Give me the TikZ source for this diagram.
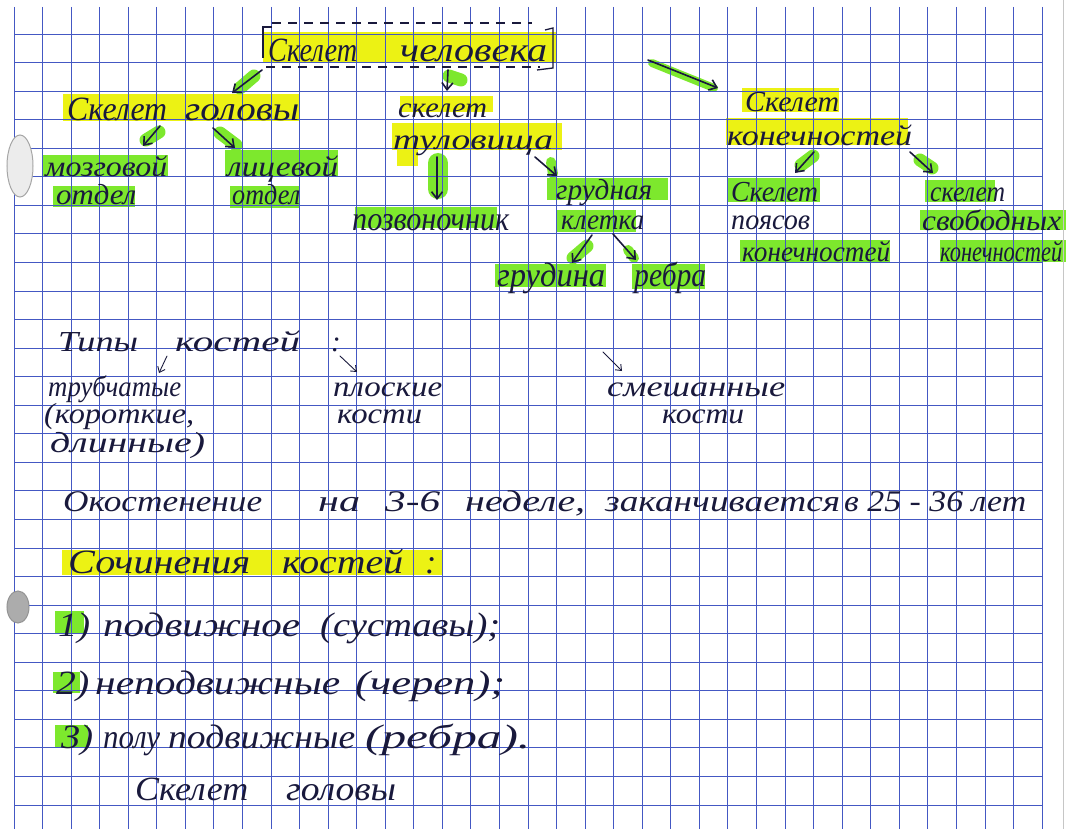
\documentclass[tikz,border=0pt]{standalone}
\usepackage{fontspec}
\setmainfont{Liberation Serif}
\usetikzlibrary{arrows.meta}
\definecolor{ink}{RGB}{25,25,60}
\definecolor{gridblue}{RGB}{68,88,195}
\definecolor{yhl}{RGB}{236,242,20}
\definecolor{ghl}{RGB}{125,232,45}
\newcommand\hw[2]{\resizebox{#1pt}{\height}{#2}}
\newcommand\hwl[3][0]{\hbox{\hspace*{#1pt}\hw{#2}{#3}}}
\newcommand\stk[1]{\vtop{\lineskiplimit=-99pt\lineskip=0pt\relax #1}}
\begin{document}
\begin{tikzpicture}[x=1pt,y=-1pt,
  lbl/.style={inner sep=0pt, anchor=base west, text=ink, font=\fontsize{34}{28}\selectfont\itshape},
  stl/.style={lbl, font=\fontsize{29}{28}\selectfont\itshape},
  sml/.style={lbl, font=\fontsize{29}{27}\selectfont\itshape},
  yh/.style={fill=yhl},
  gh/.style={fill=ghl},
  gridline/.style={draw=gridblue, line width=1.4pt},
  ar/.style={draw=ink, line width=1.6pt, line cap=round, -{Straight Barb[length=7pt,width=11pt]}},
  tar/.style={draw=ink, line width=0.9pt, line cap=round, -{Straight Barb[length=5pt,width=8pt]}},
  gblob/.style={draw=ghl, line width=13pt, line cap=round},
  dashbox/.style={draw=ink, line width=1.1pt, dash pattern=on 9pt off 7pt},
]
\useasboundingbox (0,0) rectangle (1066,829);
\clip (0,0) rectangle (1066,829);
\fill[white] (0,0) rectangle (1066,829);

% ---------- highlights ----------
\fill[yh] (263,32) rectangle (556,63);
\fill[yh] (63,94) rectangle (300,121);
\fill[yh] (400,96) rectangle (493,112);
\fill[yh] (392,123) rectangle (562,150);
\fill[yh] (397,150) rectangle (418,166);
\fill[yh] (742,88) rectangle (839,112);
\fill[yh] (726,118) rectangle (908,145);
\fill[yh] (62,550) rectangle (442,575);

\fill[gh] (43,155) rectangle (168,177);
\fill[gh] (53,186) rectangle (135,207);
\fill[gh] (225,150) rectangle (338,177);
\fill[gh] (230,186) rectangle (300,208);
\fill[gh] (355,207) rectangle (497,228);
\fill[gh] (547,178) rectangle (668,200);
\fill[gh] (557,210) rectangle (636,232);
\fill[gh] (495,264) rectangle (606,287);
\fill[gh] (632,264) rectangle (705,289);
\fill[gh] (727,178) rectangle (820,202);
\fill[gh] (740,240) rectangle (890,263);
\fill[gh] (925,180) rectangle (995,202);
\fill[gh] (920,210) rectangle (1066,230);
\fill[gh] (940,240) rectangle (1066,262);
\fill[gh] (55,611) rectangle (84,634);
\fill[gh] (53,672) rectangle (80,693);
\fill[gh] (55,725) rectangle (88,748);

% green marks behind arrows
\draw[gblob] (240,88) -- (254,76);
\draw[gblob] (449,76) -- (461,80);
\draw[gblob, line width=8pt] (652,63) -- (714,88);
\draw[gblob] (146,140) -- (159,132);
\draw[gblob] (220,133) -- (236,145);
\draw[gblob, line width=20pt] (438,163) -- (438,189);
\draw[gblob, line width=10pt] (551,162) -- (553,174);
\draw[gblob] (573,258) -- (587,246);
\draw[gblob, line width=10pt] (628,250) -- (634,258);
\draw[gblob] (801,165) -- (813,156);
\draw[gblob] (920,160) -- (932,168);

% ---------- grid ----------
\foreach \k in {0,...,36} {
  \pgfmathsetmacro{\gx}{floor(14+28.56*\k)+0.5}
  \draw[gridline] (\gx,7) -- (\gx,829);
}
\foreach \j in {0,...,27} {
  \pgfmathsetmacro{\gy}{floor(34+28.56*\j)+0.5}
  \draw[gridline] (14,\gy) -- (1042,\gy);
}
\draw[gray!45, line width=1pt] (1063,0) -- (1063,829);

% punch holes
\filldraw[fill=gray!15, draw=gray!70, line width=1pt] (20,166) ellipse [x radius=13, y radius=31];
\filldraw[fill=gray!65, draw=gray!85, line width=1pt] (18,607) ellipse [x radius=11, y radius=16];

% ---------- title ----------
\node[lbl] (title) at (268,62) {\hw{89}{Скелет}\hspace{43pt}\hw{147}{человека}};
\draw[dashbox] (272,23) -- (532,23);
\draw[dashbox] (266,67) -- (540,67);
\draw[ink, line width=1.3pt] (272,27) -- (263,27) -- (263,58);
\draw[ink, line width=1.3pt] (545,30) -- (553,28) -- (553,68) -- (537,70);

% ---------- tree ----------
\node[lbl] (head) at (67,121) {\hw{100}{Скелет}\hspace{18pt}\hw{114}{головы}};
\node[stl] (brain) at (45,177) {\stk{\hwl{122}{мозговой}\baselineskip=28pt\hwl[11]{80}{отдел}}};
\node[stl] (face) at (227,177) {\stk{\hwl{111}{лицевой}\baselineskip=28pt\hwl[5]{68}{отдел}}};
\node[stl] (trunk) at (393,118) {\stk{\hwl[5]{89}{скелет}\baselineskip=32pt\hwl{160}{туловища}}};
\node[lbl] (spine) at (352,231) {\hw{157}{позвоночник}};
\node[stl] (chest) at (556,200) {\stk{\hwl{96}{грудная}\baselineskip=30pt\hwl[5]{83}{клетка}}};
\node[lbl] (sternum) at (497,287) {\hw{108}{грудина}};
\node[lbl] (ribs) at (634,287) {\hw{72}{ребра}};
\node[stl] (limbs) at (727,112) {\stk{\hwl[18]{94}{Скелет}\baselineskip=34pt\hwl{185}{конечностей}}};
\node[stl] (girdle) at (731,202) {\stk{\hwl{87}{Скелет}\baselineskip=28pt\hwl{79}{поясов}\baselineskip=32pt\hwl[11]{148}{конечностей}}};
\node[stl] (free) at (922,202) {\stk{\hwl[8]{75}{скелет}\baselineskip=29pt\hwl{139}{свободных}\baselineskip=31pt\hwl[18]{122}{конечностей}}};

\coordinate (a1s) at (262,70);  \coordinate (a1e) at (232,93);
\coordinate (a2s) at (448,70);  \coordinate (a2e) at (447,91);
\coordinate (a3s) at (648,60);  \coordinate (a3e) at (718,88);
\coordinate (a4s) at (160,126); \coordinate (a4e) at (143,146);
\coordinate (a5s) at (213,128); \coordinate (a5e) at (235,148);
\coordinate (a6s) at (437,157); \coordinate (a6e) at (437,200);
\coordinate (a7s) at (535,157); \coordinate (a7e) at (557,176);
\coordinate (a8s) at (592,235); \coordinate (a8e) at (572,263);
\coordinate (a9s) at (613,234); \coordinate (a9e) at (636,260);
\coordinate (a10s) at (814,152); \coordinate (a10e) at (795,173);
\coordinate (a11s) at (910,152); \coordinate (a11e) at (933,173);
\draw[ar] (a1s) -- (a1e);
\draw[ar] (a2s) -- (a2e);
\draw[ar] (a3s) -- (a3e);
\draw[ar] (a4s) -- (a4e);
\draw[ar] (a5s) -- (a5e);
\draw[ar] (a6s) -- (a6e);
\draw[ar] (a7s) -- (a7e);
\draw[ar] (a8s) -- (a8e);
\draw[ar] (a9s) -- (a9e);
\draw[ar] (a10s) -- (a10e);
\draw[ar] (a11s) -- (a11e);

% ---------- types of bones ----------
\node[sml] (types) at (58,351) {\hw{80}{Типы}\hspace{37pt}\hw{125}{костей}\hspace{31pt}:};
\node[sml] (tubular) at (44,396) {\stk{\hwl[4]{133}{трубчатые}\baselineskip=27pt\hwl{150}{(короткие,}\baselineskip=29pt\hwl[6]{155}{длинные)}}};
\node[sml] (flat) at (333,396) {\stk{\hwl{109}{плоские}\baselineskip=27pt\hwl[4]{85}{кости}}};
\node[sml] (mixed) at (607,396) {\stk{\hwl{178}{смешанные}\baselineskip=27pt\hwl[55]{82}{кости}}};
\coordinate (b1s) at (167,356); \coordinate (b1e) at (159,373);
\coordinate (b2s) at (340,356); \coordinate (b2e) at (357,372);
\coordinate (b3s) at (603,352); \coordinate (b3e) at (622,371);
\draw[tar] (b1s) -- (b1e);
\draw[tar] (b2s) -- (b2e);
\draw[tar] (b3s) -- (b3e);

% ---------- ossification ----------
\node[lbl, font=\fontsize{30}{30}\selectfont\itshape] (ossif) at (63,511) {\hw{199}{Окостенение}\hspace{56pt}\hw{42}{на}\hspace{25pt}\hw{55}{3-6}\hspace{25pt}\hw{120}{неделе,}\hspace{20pt}\hw{235}{заканчивается}\hspace{4pt}\hw{182}{в 25 - 36 лет}};

% ---------- joints ----------
\node[lbl] (joints) at (68,573) {\hw{182}{Сочинения}\hspace{32pt}\hw{121}{костей}\hspace{22pt}:};
\node[lbl] (row1) at (58,636) {\hw{32}{1)}\hspace{13pt}\hw{197}{подвижное}\hspace{20pt}\hw{180}{(суставы);}};
\node[lbl] (row2) at (56,694) {\hw{33}{2)}\hspace{6pt}\hw{245}{неподвижные}\hspace{15pt}\hw{150}{(череп);}};
\node[lbl] (row3) at (61,748) {\hw{32}{3)}\hspace{10pt}\hw{57}{полу}\hspace{8pt}\hw{187}{подвижные}\hspace{10pt}\hw{165}{(ребра).}};
\node[lbl] (head2) at (135,800) {\hw{113}{Скелет}\hspace{38pt}\hw{110}{головы}};
\end{tikzpicture}
\end{document}
